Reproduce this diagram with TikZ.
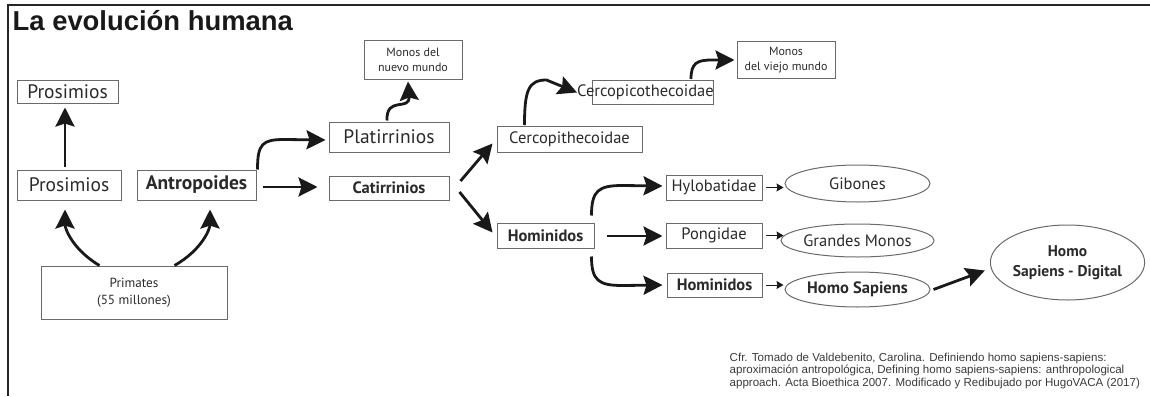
\documentclass[tikz,border=0pt]{standalone}
\usepackage{fontspec}
\setmainfont{PT Sans}
\newfontfamily\arialf{Liberation Sans}
\usetikzlibrary{arrows.meta,shapes.geometric,calc}
\definecolor{boxgray}{HTML}{6A6A6A}
\definecolor{txt}{HTML}{2A2A2A}
\definecolor{cite}{HTML}{3A3A3A}
\tikzset{
  bx/.style={draw=boxgray, line width=1pt, inner sep=0pt, align=center, text=txt},
  el/.style={ellipse, draw=boxgray, line width=1pt, inner sep=0pt, align=center, text=txt},
  arr/.style={line width=2.8pt, draw=black!90, -{Stealth[length=19pt,width=19pt,inset=3pt]}},
  sarr/.style={line width=1pt, draw=black!90, -{Stealth[length=7pt,width=8pt,inset=1pt]}},
  big/.style={font=\fontsize{19.5}{21}\selectfont},
  bigb/.style={font=\fontsize{19.5}{21}\selectfont\bfseries},
  med/.style={font=\fontsize{16.5}{18}\selectfont},
  medb/.style={font=\fontsize{16.5}{18}\selectfont\bfseries},
  sml/.style={font=\fontsize{12}{14.5}\selectfont},
}
\begin{document}
\begin{tikzpicture}[x=1pt,y=-1pt]
\useasboundingbox (0,0) rectangle (1150,396);
% frame
\draw[line width=2pt, black!85] (8,396) -- (8,5.5) -- (1150,5.5);
\node[anchor=base west, inner sep=0pt, font=\arialf\fontsize{27.4}{30}\selectfont\bfseries, text=black!90] (title) at (12.5,30.5) {La evolución humana};
% boxes
\node[bx, big, minimum width=101pt, minimum height=23pt] (prosT) at (67.5,91.5) {Prosimios};
\node[bx, big, minimum width=104pt, minimum height=30pt] (prosM) at (69,185) {Prosimios};
\node[bx, bigb, minimum width=119pt, minimum height=30pt] (antro) at (196.5,185) {Antropoides};
\node[bx, font=\fontsize{13.2}{17}\selectfont, minimum width=186pt, minimum height=53pt] (prim) at (134,292.5) {Primates\\(55 millones)};
\node[bx, big, minimum width=120pt, minimum height=30pt] (plat) at (389,137) {Platirrinios};
\node[bx, medb, minimum width=120pt, minimum height=24pt] (cat) at (389,188) {Catirrinios};
\node[bx, sml, minimum width=98pt, minimum height=38pt] (nuevo) at (413,60) {Monos del\\nuevo mundo};
\node[bx, med, minimum width=145pt, minimum height=26pt] (cercL) at (569.5,139.5) {Cercopithecoidae};
\draw[boxgray, line width=1pt] (592,80) rectangle (713,104);
\node[med, text=txt, inner sep=0pt, anchor=west] (cercU) at (577,92.5) {Cercopicothecoidae};
\node[bx, sml, minimum width=98pt, minimum height=36pt] (viejo) at (786,60) {Monos\\del viejo mundo};
\node[bx, medb, minimum width=97pt, minimum height=25pt] (homin) at (545.5,235.5) {Hominidos};
\node[bx, med, minimum width=96pt, minimum height=25pt] (hylo) at (714,187.5) {Hylobatidae};
\node[bx, med, minimum width=96pt, minimum height=25pt] (pong) at (714,235.5) {Pongidae};
\node[bx, medb, minimum width=95pt, minimum height=24pt] (homin2) at (714.5,285) {Hominidos};
\node[el, med, minimum width=145pt, minimum height=37pt] (gib) at (857.5,183.5) {Gibones};
\node[el, med, minimum width=145pt, minimum height=33pt] (gm) at (857.5,240.5) {Grandes Monos};
\node[el, medb, minimum width=145pt, minimum height=35pt] (hs) at (857.5,289.5) {Homo Sapiens};
\node[el, font=\fontsize{15.5}{19.5}\selectfont\bfseries, minimum width=145pt, minimum height=75pt] (dig) at (1067.5,262.5) {Homo\\Sapiens - Digital};
% citation
\node[anchor=north west, inner sep=0pt, align=left, text=cite, font=\arialf\fontsize{11.55}{12.8}\selectfont] (cita) at (729.5,352.5) {Cfr. Tomado de Valdebenito, Carolina. Definiendo homo sapiens-sapiens:\\aproximación antropológica, Defining homo sapiens-sapiens: anthropological\\approach. Acta Bioethica 2007. Modificado y Redibujado por HugoVACA (2017)};
% connectors
\draw[arr] ($(prosM.north)+(-4,-3)$) -- ($(prosT.south)+(-2.5,4)$);
\draw[arr] ($(prim.north west)+(59,0)$) .. controls ($(prim.north west)+(32,-16)$) and ($(prosM.south)+(-4,28)$) .. ($(prosM.south)+(-4,9)$);
\draw[arr] ($(prim.north west)+(134,0)$) .. controls ($(prim.north west)+(162,-16)$) and ($(antro.south)+(13.5,28)$) .. ($(antro.south)+(13.5,9)$);
\draw[arr] ($(antro.east)+(6,2)$) -- ($(cat.west)+(-11,-1)$);
\draw[arr] ($(antro.north east)+(1,0)$) .. controls ($(antro.north east)+(1,-26)$) and ($(antro.north east)+(6,-30)$) .. ($(antro.north east)+(28,-30)$) -- ($(plat.west)+(-3,3)$);
\draw[arr] ($(plat.north)+(-2,-1)$) .. controls ($(plat.north)+(-3,-26)$) and ($(plat.north)+(21,-10)$) .. ($(nuevo.south)+(-5,2)$);
\draw[arr] ($(cat.east)+(11,-7)$) -- ($(cercL.west)+(-4,4)$);
\draw[arr] ($(cat.east)+(10,4)$) -- ($(homin.west)+(-4,-3)$);
\draw[arr] ($(cercL.north west)+(28,-1)$) .. controls ($(cercL.north west)+(28,-36)$) and ($(cercL.north west)+(32,-46)$) .. ($(cercL.north west)+(50,-46)$) -- (cercU.west);
\draw[arr] (691,79) .. controls (691,63) and (697,60) .. (712,60) -- ($(viejo.west)+(-2,0)$);
\draw[arr] ($(homin.north east)+(-3,-7)$) .. controls ($(homin.north east)+(-3,-32)$) and ($(homin.north east)+(4,-37)$) .. ($(homin.north east)+(28,-37)$) -- ($(hylo.west)+(-3,-1.5)$);
\draw[arr] ($(homin.east)+(12,0.5)$) -- ($(pong.west)+(-3,0.5)$);
\draw[arr] ($(homin.south east)+(-3,8)$) .. controls ($(homin.south east)+(-3,32)$) and ($(homin.south east)+(4,37)$) .. ($(homin.south east)+(28,37)$) -- ($(homin2.west)+(-4,0)$);
\draw[sarr] ($(hylo.east)+(3,0)$) -- ($(hylo.east)+(21,0)$);
\draw[sarr] ($(pong.east)+(3,0)$) -- ($(pong.east)+(21,0)$);
\draw[sarr] ($(homin2.east)+(3,0)$) -- ($(homin2.east)+(21,0)$);
\draw[arr] ($(hs.east)+(3,0)$) -- ($(dig.west)+(-5,8)$);
\end{tikzpicture}
\end{document}
